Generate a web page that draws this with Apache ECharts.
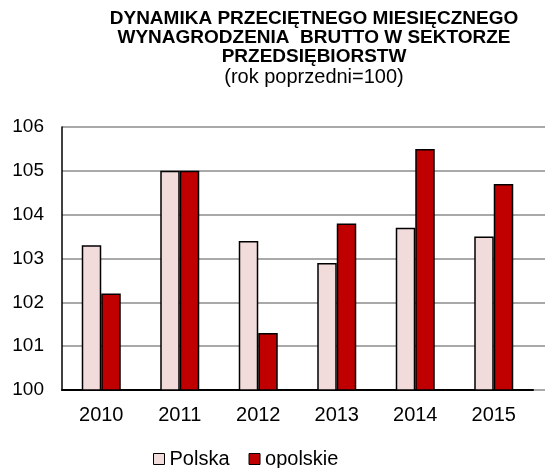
<!DOCTYPE html>
<html>
<head>
<meta charset="utf-8">
<script src="https://cdn.jsdelivr.net/npm/echarts@6/dist/echarts.min.js"></script>
<style>
  html, body { margin: 0; padding: 0; background: #fff; }
  #chart { width: 545px; height: 468px; }
</style>
</head>
<body>
<div id="chart"></div>
<script>
// Year-on-year growth of average gross monthly wages (previous year = 100)
const years = ['2010', '2011', '2012', '2013', '2014', '2015'];
const polska = [103.3, 105.0, 103.4, 102.9, 103.7, 103.5];
const opolskie = [102.2, 105.0, 101.3, 103.8, 105.5, 104.7];
const yTicks = [100, 101, 102, 103, 104, 105, 106];

const FONT = '"Liberation Sans", Arial, sans-serif';
const chart = echarts.init(document.getElementById('chart'), null, { renderer: 'canvas' });

chart.setOption({
  animation: false,
  backgroundColor: '#ffffff',
  title: {
    text: 'DYNAMIKA PRZECIĘTNEGO MIESIĘCZNEGO\nWYNAGRODZENIA  BRUTTO W SEKTORZE\nPRZEDSIĘBIORSTW',
    subtext: '(rok poprzedni=100)',
    left: 314,
    top: 9,
    textAlign: 'center',
    itemGap: 1,
    padding: 0,
    textStyle: { fontFamily: FONT, fontSize: 19, fontWeight: 'bold', color: '#000', lineHeight: 19 },
    subtextStyle: { fontFamily: FONT, fontSize: 20, color: '#000', lineHeight: 20 }
  },
  legend: {
    top: 449,
    left: 153,
    padding: 0,
    itemWidth: 11,
    itemHeight: 11,
    itemGap: 19,
    textStyle: { fontFamily: FONT, fontSize: 20, color: '#000' },
    data: [
      { name: 'Polska', icon: 'rect', itemStyle: { borderColor: '#000', borderWidth: 1 } },
      { name: 'opolskie', icon: 'rect', itemStyle: { borderColor: '#000', borderWidth: 1 } }
    ]
  },
  grid: [
    { left: 62, width: 471, top: 127, height: 263, containLabel: false },
    { left: 62, right: 0, top: 127, height: 263, containLabel: false }
  ],
  xAxis: [
    {
      type: 'category',
      gridIndex: 0,
      data: years,
      axisLine: { show: true, lineStyle: { color: '#000', width: 2 } },
      axisTick: { show: false },
      axisLabel: { fontFamily: FONT, fontSize: 20, color: '#000', margin: 15 }
    },
    { type: 'value', gridIndex: 1, show: false, min: 0, max: 1 }
  ],
  yAxis: [
    {
      type: 'value',
      gridIndex: 0,
      min: yTicks[0],
      max: yTicks[yTicks.length - 1],
      interval: 1,
      axisLine: { show: true, lineStyle: { color: '#000', width: 1.5 } },
      axisTick: { show: false },
      splitLine: { show: false },
      axisLabel: { fontFamily: FONT, fontSize: 19, color: '#000', margin: 18 }
    },
    {
      type: 'value',
      gridIndex: 1,
      min: yTicks[0],
      max: yTicks[yTicks.length - 1],
      interval: 1,
      axisLine: { show: false },
      axisTick: { show: false },
      axisLabel: { show: false },
      splitLine: { show: true, lineStyle: { color: '#8c8c8c', width: 1.5 } },
      z: 0
    }
  ],
  series: [
    {
      name: 'Polska',
      type: 'bar',
      xAxisIndex: 0,
      yAxisIndex: 0,
      data: polska,
      barWidth: 19.5,
      barGap: '0%',
      itemStyle: { color: '#F2DCDB', borderColor: '#000', borderWidth: 1.5 },
      z: 3
    },
    {
      name: 'opolskie',
      type: 'bar',
      xAxisIndex: 0,
      yAxisIndex: 0,
      data: opolskie,
      barWidth: 19.5,
      barGap: '0%',
      itemStyle: { color: '#C00000', borderColor: '#000', borderWidth: 1.5 },
      z: 3
    }
  ]
});
</script>
</body>
</html>
